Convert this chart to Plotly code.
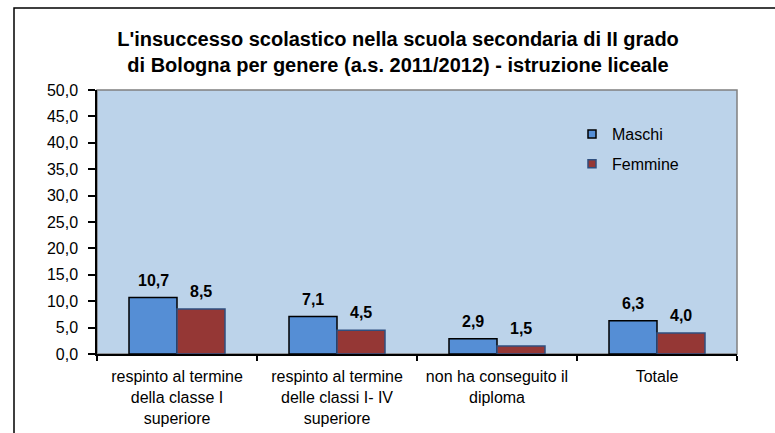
import plotly.graph_objects as go

categories = [
    "respinto al termine<br>della classe I<br>superiore",
    "respinto al termine<br>delle classi I- IV<br>superiore",
    "non ha conseguito il<br>diploma",
    "Totale",
]
maschi = [10.7, 7.1, 2.9, 6.3]
femmine = [8.5, 4.5, 1.5, 4.0]
y_tick_vals = [0, 5, 10, 15, 20, 25, 30, 35, 40, 45, 50]
y_tick_text = ["0,0", "5,0", "10,0", "15,0", "20,0", "25,0", "30,0", "35,0", "40,0", "45,0", "50,0"]
series_names = ["Maschi", "Femmine"]

FONT = "Liberation Sans, Arial, sans-serif"
C_M = "#558ED5"
C_F = "#953735"

W, H = 775, 433
L, R, T, B = 97, 38, 90, 79
pw, ph = W - L - R, H - T - B

def fmt(v):
    return f"{v:.1f}".replace(".", ",")

fig = go.Figure()
fig.add_trace(go.Bar(x=categories, y=maschi, name=series_names[0], marker=dict(color=C_M, line=dict(color="#000000", width=1.5)), showlegend=False))
fig.add_trace(go.Bar(x=categories, y=femmine, name=series_names[1], marker=dict(color=C_F, line=dict(color="#2F4F7F", width=1.5)), showlegend=False))

# legend entries with small square markers
fig.add_trace(go.Scatter(x=[None], y=[None], mode="markers", name=series_names[0], legendgroup="m",
                         marker=dict(symbol="square", size=8, color=C_M, line=dict(color="#000000", width=1.5))))
fig.add_trace(go.Scatter(x=[None], y=[None], mode="markers", name=series_names[1], legendgroup="f",
                         marker=dict(symbol="square", size=8, color=C_F, line=dict(color="#2F4F7F", width=1.5))))

annotations = []
for c, m, f in zip(categories, maschi, femmine):
    annotations.append(dict(x=c, y=m, text=fmt(m), xshift=-24, yshift=7, yanchor="bottom", showarrow=False,
                            font=dict(family=FONT, size=16, color="#000000", weight="bold")))
    annotations.append(dict(x=c, y=f, text=fmt(f), xshift=24, yshift=7, yanchor="bottom", showarrow=False,
                            font=dict(family=FONT, size=16, color="#000000", weight="bold")))

shapes = [
    # plot area gray border (top/right)
    dict(type="rect", xref="paper", yref="paper", x0=0, x1=1, y0=0, y1=1,
         line=dict(color="#808080", width=1.5), layer="below"),
    # outer chart frame (cropped at right and bottom)
    dict(type="rect", xref="paper", yref="paper",
         x0=(14 - L) / pw, x1=(W + 20 - L) / pw,
         y0=(H - B - (H + 20)) / ph, y1=(H - B - 8) / ph,
         line=dict(color="#000000", width=1.5)),
]

fig.update_layout(
    width=W, height=H, autosize=False,
    margin=dict(l=L, r=R, t=T, b=B, pad=0, autoexpand=False),
    paper_bgcolor="#FFFFFF",
    plot_bgcolor="#BCD3EA",
    barmode="group", bargap=0.4, bargroupgap=0,
    font=dict(family=FONT, size=16, color="#000000"),
    title=dict(
        text="L'insuccesso scolastico nella scuola secondaria di II grado<br>di Bologna per genere (a.s. 2011/2012) - istruzione liceale",
        x=(398 - L) / pw, xref="paper", xanchor="center",
        y=1 - 46 / H, yanchor="top",
        font=dict(family=FONT, size=20, color="#000000", weight="bold"),
        automargin=False,
    ),
    xaxis=dict(
        showline=True, linecolor="#000000", linewidth=1.5,
        ticks="outside", tickson="boundaries", ticklen=5, tickcolor="#000000", tickwidth=1.5,
        ticklabelstandoff=7, automargin=False,
        showgrid=False, tickfont=dict(family=FONT, size=16, color="#000000"),
    ),
    yaxis=dict(
        range=[0, 50], tickvals=y_tick_vals, ticktext=y_tick_text,
        showline=True, linecolor="#000000", linewidth=1.5,
        ticks="outside", ticklen=7, tickcolor="#000000", tickwidth=1.5,
        ticklabelstandoff=7, automargin=False,
        showgrid=False, zeroline=False, tickfont=dict(family=FONT, size=16, color="#000000"),
    ),
    legend=dict(
        x=(572 - L) / pw, y=1 - (117 - T) / ph, xanchor="left", yanchor="top",
        bgcolor="rgba(0,0,0,0)", font=dict(family=FONT, size=16, color="#000000"),
        tracegroupgap=6, itemwidth=30,
    ),
    annotations=annotations,
    shapes=shapes,
)

fig.write_html("out.html", config={"displayModeBar": False},
               post_script="document.body.style.margin='0';document.body.style.padding='0';")
